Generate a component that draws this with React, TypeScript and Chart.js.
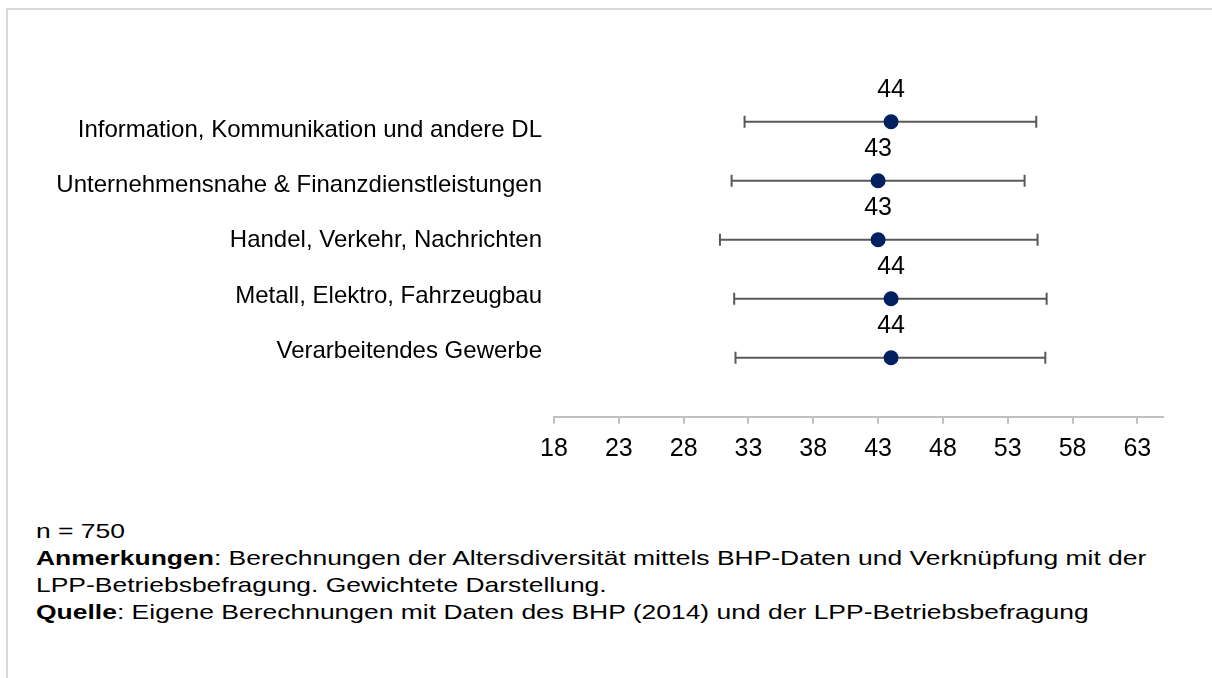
import React, { useEffect, useRef } from "react";
import { Chart, registerables } from "chart.js";

Chart.register(...registerables);

const CATEGORIES = [
  "Information, Kommunikation und andere DL",
  "Unternehmensnahe & Finanzdienstleistungen",
  "Handel, Verkehr, Nachrichten",
  "Metall, Elektro, Fahrzeugbau",
  "Verarbeitendes Gewerbe",
];
const MEANS = [44, 43, 43, 44, 44];
const LOWER = [32.7, 31.7, 30.8, 31.9, 32.0];
const UPPER = [55.2, 54.3, 55.3, 56.0, 55.9];
const X_TICKS = [18, 23, 28, 33, 38, 43, 48, 53, 58, 63];
const X_MIN = 18;
const X_MAX = 65;

const NOTE_N = "n = 750";
const NOTE_ANM_LABEL = "Anmerkungen";
const NOTE_ANM_1 = ": Berechnungen der Altersdiversität mittels BHP-Daten und Verknüpfung mit der";
const NOTE_ANM_2 = "LPP-Betriebsbefragung. Gewichtete Darstellung.";
const NOTE_SRC_LABEL = "Quelle";
const NOTE_SRC = ": Eigene Berechnungen mit Daten des BHP (2014) und der LPP-Betriebsbefragung";

const FONT = "'Liberation Sans', Arial, Helvetica, sans-serif";
const POINT_COLOR = "#002060";
const BAR_COLOR = "#595959";
const AXIS_COLOR = "#c0c0c0";

const valueLabels = {
  id: "valueLabels",
  afterDatasetsDraw(chart: any) {
    const meta = chart.getDatasetMeta(0);
    const ctx = chart.ctx;
    ctx.save();
    ctx.font = `25px ${FONT}`;
    ctx.fillStyle = "#000";
    ctx.textAlign = "center";
    ctx.textBaseline = "middle";
    meta.data.forEach((el: any, i: number) => {
      ctx.fillText(String(MEANS[i]), el.x, el.y - 32);
    });
    ctx.restore();
  },
};

export default function App() {
  const canvasRef = useRef<HTMLCanvasElement | null>(null);

  useEffect(() => {
    if (!canvasRef.current) return;
    Chart.defaults.font.family = FONT;
    const barSets = CATEGORIES.map((_, i) => ({
      type: "scatter" as const,
      showLine: true,
      data: [
        { x: LOWER[i], y: i },
        { x: UPPER[i], y: i },
      ],
      borderColor: BAR_COLOR,
      borderWidth: 2,
      pointStyle: "line",
      rotation: 90,
      pointRadius: 6,
      pointHoverRadius: 6,
      pointBorderWidth: 2,
      pointBorderColor: BAR_COLOR,
      pointBackgroundColor: BAR_COLOR,
      xAxisID: "x",
      yAxisID: "y",
    }));
    const chart = new Chart(canvasRef.current, {
      type: "scatter",
      data: {
        datasets: [
          {
            data: MEANS.map((m, i) => ({ x: m, y: i })),
            pointRadius: 7.5,
            pointHoverRadius: 7.5,
            pointBackgroundColor: POINT_COLOR,
            pointBorderColor: POINT_COLOR,
            pointBorderWidth: 0,
            xAxisID: "x",
            yAxisID: "y",
          } as any,
          ...(barSets as any[]),
        ],
      },
      options: {
        responsive: false,
        animation: false,
        layout: { padding: { top: 62.7, right: 48.7, bottom: 3.3, left: 0 } },
        plugins: { legend: { display: false }, tooltip: { enabled: false } },
        scales: {
          x: {
            type: "linear",
            position: "bottom",
            min: X_MIN,
            max: X_MAX,
            afterBuildTicks: (s: any) => {
              s.ticks = X_TICKS.map((v) => ({ value: v }));
            },
            afterFit: (s: any) => {
              s.height = 50;
            },
            grid: {
              display: true,
              drawOnChartArea: false,
              drawTicks: true,
              tickLength: 7,
              color: AXIS_COLOR,
              lineWidth: 2,
            },
            border: { display: true, color: AXIS_COLOR, width: 2 },
            ticks: {
              font: { family: FONT, size: 25 },
              color: "#000",
              padding: 10,
              maxRotation: 0,
              autoSkip: false,
            },
          },
          y: {
            type: "linear",
            min: -1,
            max: 5,
            reverse: true,
            display: false,
          },
          yl: {
            type: "linear",
            position: "left",
            min: -1.214,
            max: 5.173,
            reverse: true,
            afterBuildTicks: (s: any) => {
              s.ticks = CATEGORIES.map((_, i) => ({ value: i }));
            },
            afterFit: (s: any) => {
              s.width = 554;
            },
            grid: { display: false, drawTicks: false },
            border: { display: false },
            ticks: {
              callback: (v: any) => CATEGORIES[v as number],
              font: { family: FONT, size: 24 },
              color: "#000",
              padding: 12,
              autoSkip: false,
            },
          },
        } as any,
      },
      plugins: [valueLabels],
    });
    return () => chart.destroy();
  }, []);

  return (
    <div
      style={{
        position: "absolute",
        left: 0,
        top: 0,
        width: 1212,
        height: 678,
        overflow: "hidden",
        background: "#fff",
      }}
    >
      <div
        style={{
          position: "absolute",
          left: 6,
          top: 8,
          width: 1400,
          height: 900,
          borderTop: "2px solid #d9d9d9",
          borderLeft: "2px solid #d9d9d9",
          boxSizing: "border-box",
        }}
      />
      <canvas
        ref={canvasRef}
        width={1212}
        height={470}
        style={{ position: "absolute", left: 0, top: 0, display: "block" }}
      />
      <div
        style={{
          position: "absolute",
          left: 36,
          top: 516.7,
          fontFamily: FONT,
          fontSize: 21,
          lineHeight: "27px",
          color: "#000",
          whiteSpace: "nowrap",
          transform: "scaleX(1.26)",
          transformOrigin: "left top",
        }}
      >
        <div>{NOTE_N}</div>
        <div>
          <b>{NOTE_ANM_LABEL}</b>
          {NOTE_ANM_1}
        </div>
        <div>{NOTE_ANM_2}</div>
        <div>
          <b>{NOTE_SRC_LABEL}</b>
          {NOTE_SRC}
        </div>
      </div>
    </div>
  );
}
